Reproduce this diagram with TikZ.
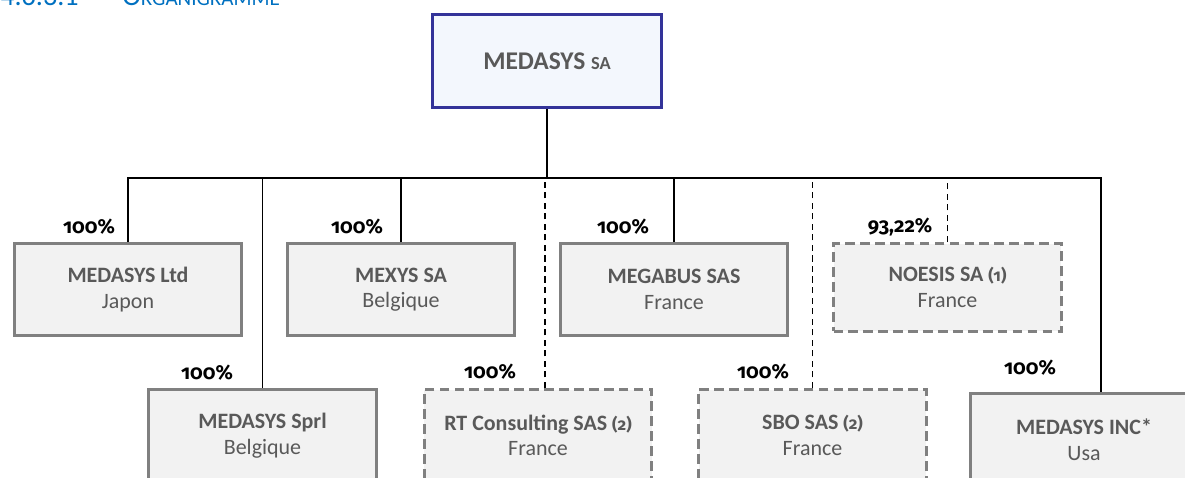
\documentclass[tikz,border=0pt]{standalone}
\usepackage{fontspec}
\setmainfont{Carlito}
\newfontfamily\oldnum{Fira Sans}[Numbers=OldStyle]
\definecolor{boxgray}{RGB}{128,128,128}
\definecolor{boxfill}{RGB}{242,242,242}
\definecolor{txtgray}{RGB}{89,89,89}
\definecolor{topblue}{RGB}{51,51,153}
\definecolor{topfill}{RGB}{243,247,253}
\definecolor{headblue}{RGB}{0,112,192}
\newcommand{\note}[1]{{\oldnum\fontsize{9.5}{12}\selectfont(#1)}}
\begin{document}
\begin{tikzpicture}[x=0.02cm,y=-0.02cm,
    company/.style={draw=boxgray,fill=boxfill,line width=1.7pt,minimum width=4.56cm,minimum height=1.84cm,
      align=center,text=txtgray,font=\fontsize{12.5}{14.5}\selectfont},
    partner/.style={company,dash pattern=on 5.5pt off 3pt},
    link/.style={line width=1.1pt},
    minority/.style={link,dash pattern=on 3.5pt off 2.5pt},
    share/.style={font=\oldnum\bfseries\fontsize{11.5}{14}\selectfont}]
  \useasboundingbox (0,0) rectangle (1185,477);
  \node[anchor=base west,inner sep=0,text=headblue,font=\fontsize{16}{18}\selectfont] (num) at (0,5) {4.6.3.1};
  \node[anchor=base west,inner sep=0,text=headblue] (head) at (122,5) {{\fontsize{16}{18}\selectfont O}{\fontsize{12}{14}\selectfont RGANIGRAMME}};
  \node[draw=topblue,fill=topfill,line width=1.7pt,minimum width=4.58cm,minimum height=1.86cm,text=txtgray] (medasys) at (547,61)
    {\bfseries\fontsize{14.5}{17}\selectfont MEDASYS {\fontsize{10.5}{12}\selectfont SA}};
  \node[company] (ltd) at (128,289.5) {\textbf{MEDASYS Ltd}\\Japon};
  \node[company] (mexys) at (401,289.5) {\textbf{MEXYS SA}\\Belgique};
  \node[company] (megabus) at (674,289.5) {\textbf{MEGABUS SAS}\\France};
  \node[partner,minimum height=1.76cm] (noesis) at (947.5,287.5) {\textbf{NOESIS SA \note{1}}\\France};
  \node[company] (sprl) at (262.5,435.5) {\textbf{MEDASYS Sprl}\\Belgique};
  \node[partner] (rtc) at (538,435.5) {\textbf{RT Consulting SAS \note{2}}\\France};
  \node[partner] (sbo) at (812.5,435.5) {\textbf{SBO SAS \note{2}}\\France};
  \node[company] (inc) at (1084,439.5) {\textbf{MEDASYS INC*}\\Usa};
  \coordinate (bus) at (545,178);
  \coordinate (rtcdrop) at ([xshift=0.14cm]rtc.north);
  \coordinate (incdrop) at ([xshift=0.34cm]inc.north);
  \draw[link] (medasys.south) -- (medasys.south |- bus);
  \draw[link] (ltd.north) |- (incdrop |- bus) -- (incdrop);
  \draw[link] (sprl.north) -- (sprl.north |- bus);
  \draw[link] (mexys.north) -- (mexys.north |- bus);
  \draw[link] (megabus.north) -- (megabus.north |- bus);
  \draw[minority] (rtcdrop) -- (rtcdrop |- bus);
  \draw[minority] (sbo.north) -- (sbo.north |- bus);
  \draw[minority] (noesis.north) -- (noesis.north |- bus);
  \node[share] (pltd) at (89,227) {100\%};
  \node[share] (pmexys) at (357,227) {100\%};
  \node[share] (pmegabus) at (623,227) {100\%};
  \node[share] (pnoesis) at (900,227) {93,22\%};
  \node[share] (psprl) at (207,373) {100\%};
  \node[share] (prtc) at (490,372) {100\%};
  \node[share] (psbo) at (763,372) {100\%};
  \node[share] (pinc) at (1030,368) {100\%};
\end{tikzpicture}
\end{document}
